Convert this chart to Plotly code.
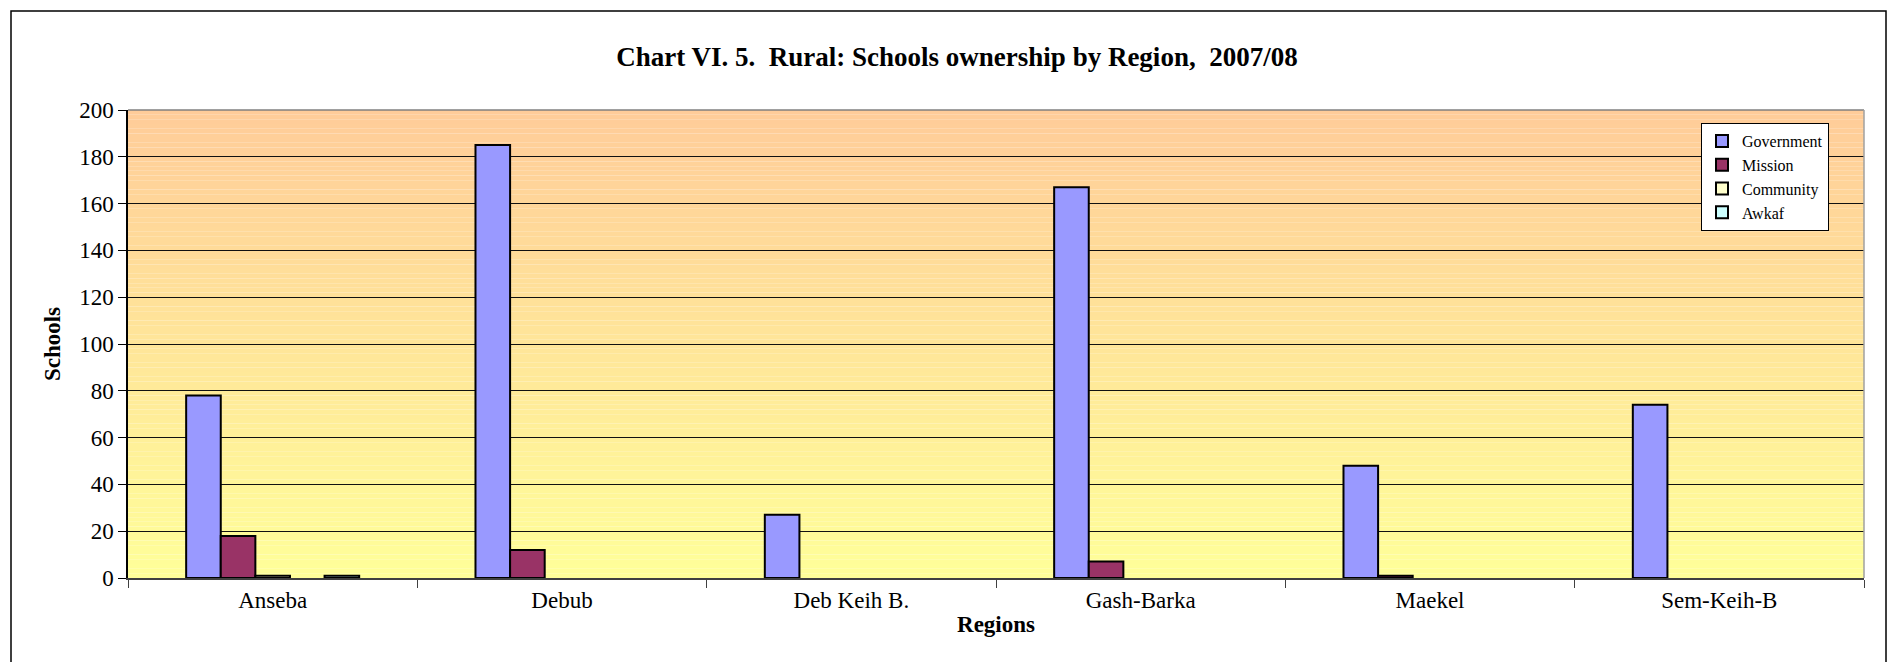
import plotly.graph_objects as go

regions = ["Anseba", "Debub", "Deb Keih B.", "Gash-Barka", "Maekel", "Sem-Keih-B"]
government = [78, 185, 27, 167, 48, 74]
mission = [18, 12, 0, 7, 1, 0]
community = [1, 0, 0, 0, 0, 0]
unnamed = [0, 0, 0, 0, 0, 0]
awkaf = [1, 0, 0, 0, 0, 0]
y_ticks = list(range(0, 201, 20))

series = [
    ("Government", government, "#9999FF", True),
    ("Mission", mission, "#993366", True),
    ("Community", community, "#FFFFCC", True),
    ("", unnamed, "#FFFFFF", False),
    ("Awkaf", awkaf, "#CCFFFF", True),
]

fig = go.Figure()
for name, vals, col, show in series:
    # zero values are not drawn (as in the original chart)
    fig.add_trace(go.Bar(
        x=regions, y=[v if v else None for v in vals], name=name, showlegend=show,
        marker=dict(color=col, line=dict(color="black", width=2)),
    ))

# gradient background (orange top -> yellow bottom)
top = (255, 204, 153)
bot = (255, 255, 153)
n = 100
shapes = []
for i in range(n):
    t = i / (n - 1)
    c = tuple(round(bot[k] + (top[k] - bot[k]) * t) for k in range(3))
    shapes.append(dict(type="rect", xref="x", yref="y", x0=-0.5, x1=5.5,
                       y0=200 * i / n, y1=200 * (i + 1) / n,
                       fillcolor="rgb(%d,%d,%d)" % c, line=dict(width=0), layer="below"))
# plot top/right border
shapes.append(dict(type="line", xref="paper", yref="paper", x0=0, x1=1, y0=1, y1=1,
                   line=dict(color="#808080", width=1.5)))
shapes.append(dict(type="line", xref="paper", yref="paper", x0=1, x1=1, y0=0, y1=1,
                   line=dict(color="#A0A0A0", width=1.5)))
# outer chart border
W, H = 1736, 468
shapes.append(dict(type="rect", xref="paper", yref="paper",
                   x0=(11 - 128) / W, x1=(1886 - 128) / W,
                   y0=(578 - 700) / H, y1=(578 - 11) / H,
                   line=dict(color="black", width=1.5), fillcolor="rgba(0,0,0,0)"))

font = "Liberation Serif, Times New Roman, serif"
fig.update_layout(
    width=1890, height=662,
    margin=dict(l=128, r=26, t=110, b=84),
    paper_bgcolor="white", plot_bgcolor="rgba(0,0,0,0)",
    barmode="group", bargap=0.402, bargroupgap=0,
    font=dict(family=font, color="black", size=23),
    title=dict(text="<b>Chart VI. 5.  Rural: Schools ownership by Region,  2007/08</b>",
               xref="container", x=957 / 1890, xanchor="center",
               yref="container", y=1 - 57 / 662, yanchor="middle",
               font=dict(family=font, size=27, color="black")),
    shapes=shapes,
    legend=dict(x=(1701 - 128) / W, y=(578 - 123) / H, xanchor="left", yanchor="top",
                bgcolor="white", bordercolor="black", borderwidth=1,
                font=dict(family=font, size=16, color="black"),
                tracegroupgap=0, itemwidth=30, entrywidth=140, entrywidthmode="pixels"),
    showlegend=True,
)
fig.update_xaxes(
    type="category", range=[-0.5, 5.5],
    showline=True, linecolor="#404040", linewidth=2,
    ticks="outside", tickson="boundaries", ticklen=8, tickcolor="#404040",
    showgrid=False,
    title=dict(text="<b>Regions</b>", font=dict(family=font, size=23), standoff=4),
    tickfont=dict(family=font, size=23),
)
fig.update_yaxes(
    range=[0, 200], tickvals=y_ticks,
    showline=True, linecolor="black", linewidth=1.5,
    ticks="outside", ticklen=8, tickcolor="black",
    showgrid=True, gridcolor="#111111", gridwidth=1,
    zeroline=False,
    title=dict(text="<b>Schools</b>", font=dict(family=font, size=23), standoff=12),
    tickfont=dict(family=font, size=23),
)
fig.write_html("out.html", config={"displayModeBar": False},
               post_script="document.body.style.margin='0';")
